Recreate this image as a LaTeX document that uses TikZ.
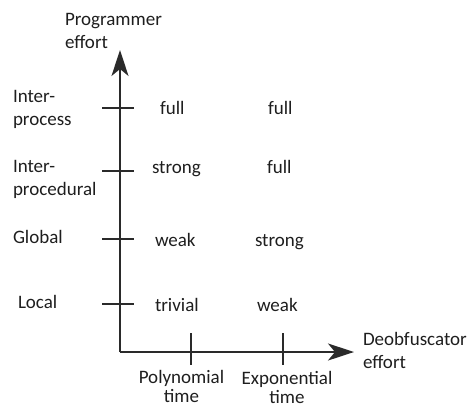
\documentclass[tikz,border=0pt]{standalone}
\usepackage{fontspec}
\setmainfont{Carlito}
\usetikzlibrary{arrows.meta}
\definecolor{txt}{HTML}{1E1E1E}
\definecolor{ln}{HTML}{2A2A2A}
\begin{document}
\begin{tikzpicture}[x=1bp,y=-1bp,
  lbl/.style={inner sep=0pt,outer sep=0pt,text=txt,font=\fontsize{19.07}{23}\selectfont},
  lw/.style={lbl,anchor=base west},
  lc/.style={lbl,anchor=base},
  axis/.style={draw=ln,line width=1.8bp,-{Stealth[length=26bp,width=17bp,inset=7bp]}},
  tick/.style={draw=ln,line width=1.3bp}]
\useasboundingbox (0,0) rectangle (472,408);
% axes
\coordinate (O) at (120,352);
\coordinate (ytop) at (120,50);
\coordinate (xend) at (354,352);
\draw[axis] (O) -- (ytop);
\draw[axis] (O) -- (xend);
% y ticks
\foreach \n/\y in {t1/108,t2/171,t3/239,t4/304}{
  \coordinate (\n a) at (102,\y);
  \coordinate (\n b) at (134,\y);
  \draw[tick] (\n a) -- (\n b);
}
% x ticks
\foreach \n/\x in {p/191,e/283}{
  \coordinate (\n a) at (\x,333);
  \coordinate (\n b) at (\x,365);
  \draw[tick] (\n a) -- (\n b);
}
% axis labels
\node[lw] (pe1) at (65,25) {Programmer};
\node[lw] (pe2) at (65,48) {effort};
\node[lw] (de1) at (363,345) {Deobfuscator};
\node[lw] (de2) at (363,368) {effort};
% left labels
\node[lw] (ip1) at (13,102) {Inter-};
\node[lw] (ip2) at (13,125) {process};
\node[lw] (ipr1) at (13,172) {Inter-};
\node[lw] (ipr2) at (13,195) {procedural};
\node[lw] (gl) at (13,243) {Global};
\node[lw] (lo) at (18,308) {Local};
% bottom labels
\node[lc] (po1) at (181.5,383) {Polynomial};
\node[lc] (po2) at (181.5,402) {time};
\node[lc] (ex1) at (287,384) {Exponential};
\node[lc] (ex2) at (287,403) {time};
% cells
\node[lw] (c11) at (160,114) {full};
\node[lw] (c12) at (268,114) {full};
\node[lw] (c21) at (152,173) {strong};
\node[lw] (c22) at (267,173) {full};
\node[lw] (c31) at (155,246) {weak};
\node[lw] (c32) at (255,246) {strong};
\node[lw] (c41) at (155,311) {trivial};
\node[lw] (c42) at (257,311) {weak};
\end{tikzpicture}
\end{document}
